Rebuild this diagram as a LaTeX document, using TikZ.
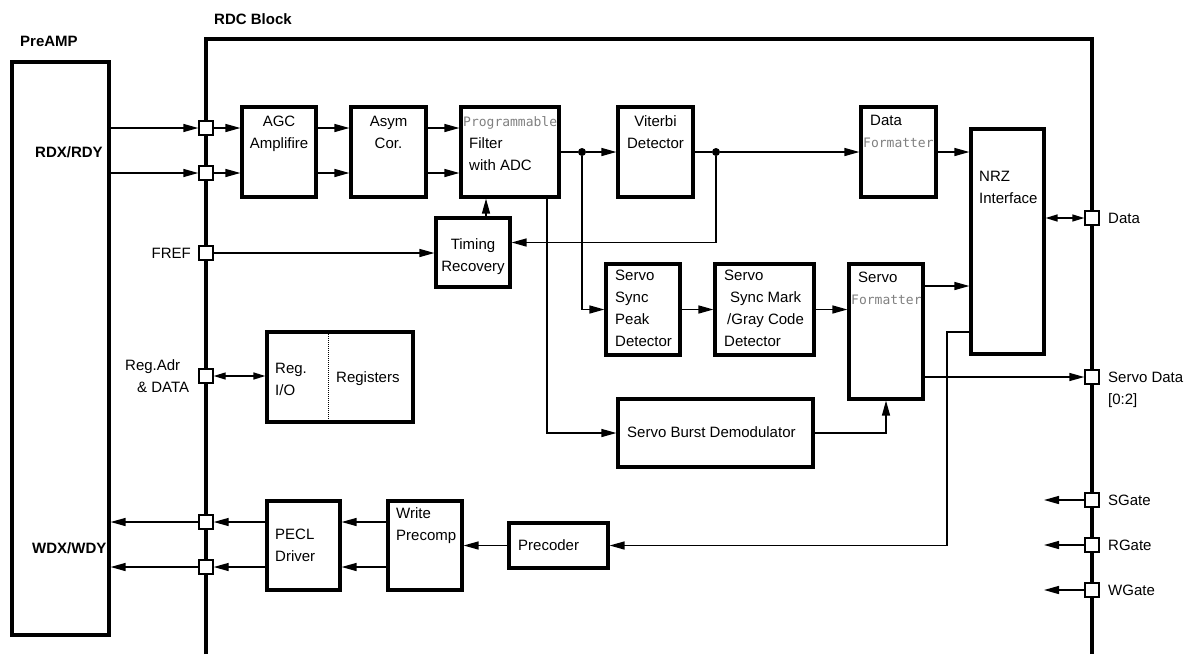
\documentclass[tikz,border=0pt]{standalone}
\usepackage{fontspec}
\setmainfont{Liberation Sans}
\newfontfamily\pmono{DejaVu Sans Mono}
\newcommand{\mtext}[1]{{\pmono\fontsize{13}{22}\selectfont\color{black!50}#1}}
\usetikzlibrary{arrows.meta}

\begin{document}
\begin{tikzpicture}[x = 1pt, y = -1pt, font = \fontsize{15}{22}\selectfont,
    blk/.style = {draw, line width = 3.2pt, inner sep = 0pt},
    port/.style = {draw, fill = white, line width = 1.4pt, minimum size = 14pt, inner sep = 0pt},
    jdot/.style = {circle, fill, inner sep = 0pt, minimum size = 8pt},
    txt/.style = {inner sep = 0pt, align = left},
    ttl/.style = {inner sep = 0pt, font = \fontsize{15}{22}\selectfont\bfseries},
    wire/.style = {line width = 1.4pt},
    arr/.style = {wire, -{Triangle[length = 15pt, width = 8pt]}},
    darr/.style = {wire, {Triangle[length = 12pt, width = 7pt]}-{Triangle[length = 12pt, width = 7pt]}}]
    \useasboundingbox (0,0) rectangle (1193,654);
    % frame of the RDC block:
    \draw[line width = 3.2pt] (206,654) -- (206,39) -- (1092,39) -- (1092,654);
    % blocks:
    \node[blk, minimum width = 97pt, minimum height = 573pt] (preamp) at (60.5,348.5) {};
    \node[blk, minimum width = 74pt, minimum height = 90pt] (agc) at (279,152) {};
    \node[blk, minimum width = 75pt, minimum height = 90pt] (asym) at (388.5,152) {};
    \node[blk, minimum width = 98pt, minimum height = 90pt] (filt) at (510,152) {};
    \node[blk, minimum width = 75pt, minimum height = 90pt] (vit) at (655.5,152) {};
    \node[blk, minimum width = 75pt, minimum height = 90pt] (dfmt) at (898.5,152) {};
    \node[blk, minimum width = 73pt, minimum height = 225pt] (nrz) at (1007.5,241.5) {};
    \node[blk, minimum width = 74pt, minimum height = 69pt] (tim) at (473,252.5) {};
    \node[blk, minimum width = 74pt, minimum height = 91pt] (sync) at (643,309.5) {};
    \node[blk, minimum width = 99pt, minimum height = 91pt] (smark) at (764.5,309.5) {};
    \node[blk, minimum width = 74pt, minimum height = 135pt] (sfmt) at (886,331.5) {};
    \node[blk, minimum width = 146pt, minimum height = 90pt] (reg) at (340,377) {};
    \node[blk, minimum width = 195pt, minimum height = 68pt] (burst) at (715.5,433) {};
    \node[blk, minimum width = 73pt, minimum height = 89pt] (pecl) at (303.5,545.5) {};
    \node[blk, minimum width = 74pt, minimum height = 89pt] (wpc) at (425,545.5) {};
    \node[blk, minimum width = 99pt, minimum height = 45pt] (prec) at (558.5,545.5) {};
    \draw[densely dotted, line width = 1pt] (328,332) -- (328,422);
    % ports:
    \node[port] (pA) at (206,128) {};
    \node[port] (pB) at (206,173) {};
    \node[port] (pF) at (206,253) {};
    \node[port] (pR) at (206,376) {};
    \node[port] (pW1) at (206,522) {};
    \node[port] (pW2) at (206,567) {};
    \node[port] (pD) at (1092,218) {};
    \node[port] (pS) at (1092,377) {};
    \node[port] (pSG) at (1092,500) {};
    \node[port] (pRG) at (1092,545) {};
    \node[port] (pWG) at (1092,590) {};
    \coordinate (sgEnd) at (1044,500);
    \coordinate (rgEnd) at (1044,545);
    \coordinate (wgEnd) at (1044,590);
    % junctions:
    \node[jdot] (d1) at (582,152) {};
    \node[jdot] (d2) at (716,152) {};
    \coordinate (bend) at (947,332);
    % texts:
    \node[ttl, anchor = west] (preampT) at (20,41) {PreAMP};
    \node[ttl, anchor = west] (rdcT) at (214,19) {RDC Block};
    \node[ttl, anchor = west] (rdxT) at (35,152) {RDX/RDY};
    \node[ttl, anchor = west] (wdxT) at (32,548) {WDX/WDY};
    \node[txt, anchor = north, align = center] (agcT) at (279,115.5) {AGC\\Amplifire};
    \node[txt, anchor = north, align = center] (asymT) at (388.5,115.5) {Asym\\Cor.};
    \node[txt, anchor = north west] (filtT) at (463,116) {\mtext{Programmable}\\\hspace*{6pt}Filter\\\hspace*{6pt}with ADC};
    \node[txt, anchor = north, align = center] (vitT) at (655.5,115.5) {Viterbi\\Detector};
    \node[txt, anchor = north west] (dfmtT) at (863,115) {\hspace*{7pt}Data\\\mtext{Formatter}};
    \node[txt, anchor = north west] (nrzT) at (979,170.5) {NRZ\\Interface};
    \node[txt, anchor = north, align = center] (timT) at (473,238.5) {Timing\\Recovery};
    \node[txt, anchor = north west] (syncT) at (615,269.5) {Servo\\Sync\\Peak\\Detector};
    \node[txt, anchor = north west] (smarkT) at (724,269.5) {Servo\\\hspace*{6pt}Sync Mark\\\hspace*{3pt}/Gray Code\\Detector};
    \node[txt, anchor = north west] (sfmtT) at (851,271.5) {\hspace*{7pt}Servo\\\mtext{Formatter}};
    \node[txt, anchor = north west] (regT) at (275,362.5) {Reg.\\I/O};
    \node[txt, anchor = west] (regsT) at (336,379) {Registers};
    \node[txt, anchor = west] (burstT) at (627,432) {Servo Burst Demodulator};
    \node[txt, anchor = north west] (peclT) at (275,528.5) {PECL\\Driver};
    \node[txt, anchor = north west] (wpcT) at (396,507.5) {Write\\Precomp};
    \node[txt, anchor = west] (precT) at (518,545) {Precoder};
    \node[txt, anchor = east] (frefT) at (191,253) {FREF};
    \node[txt, anchor = north west] (regadrT) at (125,359.5) {Reg.Adr\\\hspace*{12pt}\& DATA};
    \node[txt, anchor = west] (dataT) at (1108,218) {Data};
    \node[txt, anchor = north west] (sdataT) at (1108,371.5) {Servo Data\\{}[0:2]};
    \node[txt, anchor = west] (sgT) at (1108,500) {SGate};
    \node[txt, anchor = west] (rgT) at (1108,545) {RGate};
    \node[txt, anchor = west] (wgT) at (1108,590) {WGate};
    % lines:
    \foreach \p in {pA,pB} {
      \draw[arr] (\p -| preamp.east) -- (\p.west);
      \draw[arr] (\p.east) -- (\p -| agc.west);
      \draw[arr] (\p -| agc.east) -- (\p -| asym.west);
      \draw[arr] (\p -| asym.east) -- (\p -| filt.west);
    }
    \foreach \p in {pW1,pW2} {
      \draw[arr] (\p -| wpc.west) -- (\p -| pecl.east);
      \draw[arr] (\p -| pecl.west) -- (\p.east);
      \draw[arr] (\p.west) -- (\p -| preamp.east);
    }
    \foreach \p/\e in {pSG/sgEnd, pRG/rgEnd, pWG/wgEnd}
      \draw[arr] (\p.west) -- (\e);
    \draw[wire] (filt.east) -- (d1);
    \draw[arr] (d1) -- (vit.west);
    \draw[wire] (vit.east) -- (d2);
    \draw[arr] (d2) -- (dfmt.west);
    \draw[arr] (dfmt.east) -- (dfmt.east -| nrz.west);
    \draw[darr] (pD -| nrz.east) -- (pD.west);
    \draw[arr] (d2) |- ([yshift = 10pt]tim.east);
    \draw[arr] (pF.east) -- (pF -| tim.west);
    \draw[arr] ([xshift = 13pt]tim.north) -- ([xshift = 13pt]tim.north |- filt.south);
    \draw[arr] ([xshift = 37pt]filt.south) |- (burst.west);
    \draw[arr] (d1) |- (sync.west);
    \draw[arr] (sync.east) -- (smark.west);
    \draw[arr] (smark.east) -- (smark.east -| sfmt.west);
    \draw[arr] (sfmt.east |- 0,286) -- (nrz.west |- 0,286);
    \draw[arr] (pS -| sfmt.east) -- (pS.west);
    \draw[arr] (burst.east) -| (sfmt.south);
    \draw[arr] (nrz.west |- bend) -- (bend) |- (prec.east);
    \draw[arr] (prec.west) -- (wpc.east);
    \draw[darr] (pR.east) -- (pR -| reg.west);
\end{tikzpicture}
\end{document}
